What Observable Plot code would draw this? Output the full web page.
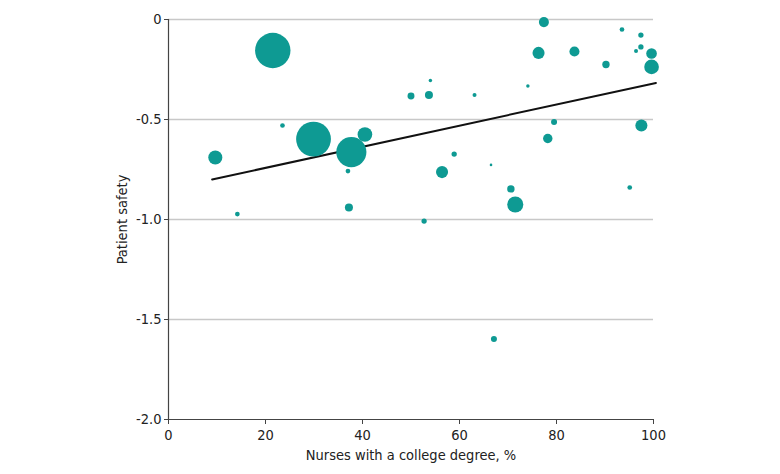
<!DOCTYPE html>
<html>
<head>
<meta charset="utf-8">
<script src="https://cdn.jsdelivr.net/npm/d3@7"></script>
<script src="https://cdn.jsdelivr.net/npm/@observablehq/plot@0.6"></script>
<style>
  html, body { margin: 0; padding: 0; background: #fff; }
  #chart { width: 780px; height: 474px; }
  svg { font-family: "Liberation Sans Narrow", "DejaVu Sans Condensed", "Liberation Sans", sans-serif; }
</style>
</head>
<body>
<div id="chart"></div>
<script>
// Nurses with a college degree (%)
const collegePct = [21.5, 50.0, 23.5, 29.9, 40.5, 37.7, 9.65, 37.0, 37.2, 14.2,
  77.4, 93.5, 97.4, 97.4, 96.4, 99.6, 99.6, 76.3, 83.7, 90.2,
  54.0, 74.1, 53.7, 63.1, 79.5, 97.5, 78.2, 58.9, 56.4, 66.5,
  70.6, 95.1, 71.5, 52.7, 67.1];
// Patient safety score
const safety = [-0.155, -0.383, -0.53, -0.598, -0.575, -0.663, -0.69, -0.758, -0.94, -0.973,
  -0.013, -0.05, -0.078, -0.137, -0.157, -0.17, -0.237, -0.167, -0.16, -0.225,
  -0.305, -0.332, -0.377, -0.378, -0.513, -0.53, -0.595, -0.673, -0.763, -0.727,
  -0.847, -0.84, -0.925, -1.008, -1.598];
// Relative weight (sample size)
const weight = [3100, 120, 55, 3000, 530, 2250, 490, 55, 160, 55,
  250, 55, 70, 70, 40, 280, 530, 360, 250, 135,
  30, 30, 160, 40, 90, 360, 220, 70, 360, 17,
  135, 55, 640, 70, 90];
// Fitted line endpoints
const fitX = [9, 100.5];
const fitY = [-0.80, -0.317];

const xTicks = [0, 20, 40, 60, 80, 100];
const yTicks = [0, -0.5, -1.0, -1.5, -2.0];

const points = collegePct.map((x, i) => ({x, y: safety[i], w: weight[i]}));
const fit = fitX.map((x, i) => ({x, y: fitY[i]}));

const fmtY = d => d === 0 ? "0" : d.toFixed(1).replace("\u2212", "-");

const chart = Plot.plot({
  width: 780,
  height: 474,
  marginLeft: 168,
  marginRight: 127,
  marginTop: 19,
  marginBottom: 55,
  style: {fontSize: "14px", color: "#222", background: "#fff"},
  x: {domain: [0, 100], ticks: xTicks},
  y: {domain: [-2, 0], ticks: yTicks},
  r: {type: "sqrt", domain: [0, 3100], range: [0, 17.7]},
  marks: [
    Plot.ruleY(yTicks.slice(0, 4), {stroke: "#c8c8c8", strokeWidth: 1.6}),
    Plot.ruleX([0], {stroke: "#444", strokeWidth: 1.2}),
    Plot.ruleY([-2], {stroke: "#444", strokeWidth: 1.2}),
    Plot.axisX({ticks: xTicks, tickSize: 5, tickPadding: 5, stroke: "#444", fontSize: 14.5,
      label: "Nurses with a college degree, %", labelAnchor: "center", labelArrow: "none", labelOffset: 40}),
    Plot.axisY({ticks: yTicks, tickSize: 4, tickPadding: 3, stroke: "#444", tickFormat: fmtY, fontSize: 14.5,
      label: "Patient safety", labelAnchor: "center", labelArrow: "none", labelOffset: 52}),
    Plot.line(fit, {x: "x", y: "y", stroke: "#111", strokeWidth: 2}),
    Plot.dot(points, {x: "x", y: "y", r: "w", fill: "#0e9a93", stroke: "none"})
  ]
});
document.getElementById("chart").appendChild(chart);
</script>
</body>
</html>
